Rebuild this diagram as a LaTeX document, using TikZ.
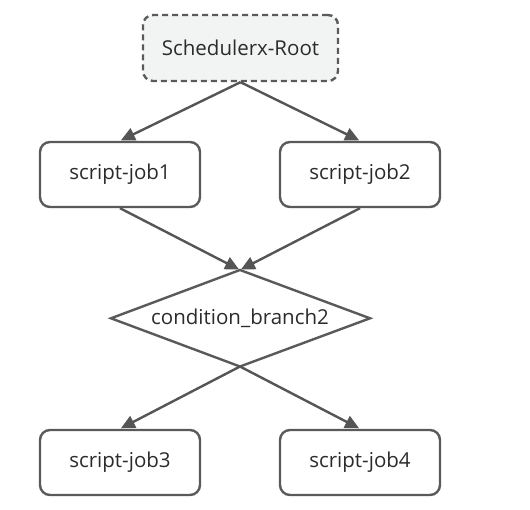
\documentclass[tikz,border=0pt]{standalone}
\usepackage{fontspec}
\setmainfont{Open Sans}
\usetikzlibrary{arrows.meta}
\definecolor{linec}{HTML}{555555}
\definecolor{boxc}{HTML}{5A5A5A}
\definecolor{rootfill}{HTML}{F2F4F3}
\definecolor{txt}{HTML}{2B2B2B}
\tikzset{
  jobbox/.style={draw=boxc, line width=2.4pt, rounded corners=10pt, minimum width=160pt, minimum height=65pt, inner sep=0pt, text=txt, font=\fontsize{20.5}{23}\selectfont},
  rootbox/.style={jobbox, fill=rootfill, dash pattern=on 6pt off 4pt, minimum width=195pt, minimum height=66pt},
  edge/.style={draw=linec, line width=2.4pt, -{Triangle[length=14pt,width=13pt]}, shorten >=1pt},
  shapeline/.style={draw=boxc, line width=2.4pt, line join=miter}
}
\begin{document}
\begin{tikzpicture}[x=1pt,y=-1pt]
\useasboundingbox (0,0) rectangle (530,510);
\fill[white] (0,0) rectangle (530,510);
\node[rootbox] (root) at (240.5,48) {Schedulerx-Root};
\node[jobbox] (job1) at (120,174.5) {script-job1};
\node[jobbox] (job2) at (360,174.5) {script-job2};
\node[jobbox] (job3) at (120,462.5) {script-job3};
\node[jobbox] (job4) at (360,462.5) {script-job4};
\coordinate (ctop) at (240,270);
\coordinate (cbot) at (240,366.5);
\coordinate (cleft) at (111,318.3);
\coordinate (cright) at (370,318.3);
\draw[shapeline] (ctop) -- (cright) -- (cbot) -- (cleft) -- cycle;
\node[text=txt, font=\fontsize{20.5}{23}\selectfont, inner sep=0pt] (cond) at (240,318.3) {condition\_branch2};
\draw[edge] (root.south) -- (job1.north);
\draw[edge] (root.south) -- (job2.north);
\draw[edge] (job1.south) -- (ctop);
\draw[edge] (job2.south) -- (ctop);
\draw[edge] (cbot) -- (job3.north);
\draw[edge] (cbot) -- (job4.north);
\end{tikzpicture}
\end{document}
